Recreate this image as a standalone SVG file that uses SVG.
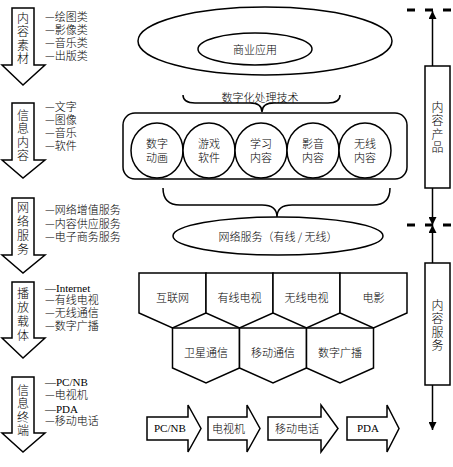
<svg xmlns="http://www.w3.org/2000/svg" width="453" height="467" viewBox="0 0 453 467">
<defs>
<style>
.s{fill:#fff;stroke:#000;stroke-width:1.5}
.n{fill:none;stroke:#000;stroke-width:1.5}
.t{font-family:"Noto Sans CJK SC","Liberation Serif",sans-serif;font-size:11px;font-weight:300;fill:#000;dominant-baseline:central}
.m{font-family:"Noto Sans CJK SC","Liberation Serif",sans-serif;font-size:11px;font-weight:300;fill:#000}
.l{font-family:"Liberation Serif","Noto Sans CJK SC",serif;font-size:11px;font-weight:400;fill:#000;dominant-baseline:central}
.lt{font-family:"Liberation Serif","Noto Sans CJK SC",serif;font-weight:400}
.c{text-anchor:middle}
.v{font-family:"Noto Sans CJK SC","Liberation Serif",sans-serif;font-size:12px;font-weight:300;fill:#000;writing-mode:vertical-rl;letter-spacing:1.5px}
.d{fill:none;stroke:#000;stroke-width:3;stroke-dasharray:8 10}
</style>
<marker id="ah" viewBox="0 0 10 10" refX="10" refY="5" markerWidth="8" markerHeight="8" markerUnits="userSpaceOnUse" orient="auto"><path d="M0,0L10,5L0,10z" fill="#000"/></marker>
</defs>
<rect width="453" height="467" fill="#fff"/>

<g id="arrow-content-material">
<polygon class="s" points="12,8 34,8 34,65 45,65 23,85 2,65 12,65"/>
<text class="v" x="23" y="12">内容素材</text>
<text class="m"><tspan x="45" y="21">—绘图类</tspan><tspan x="45" y="34">—影像类</tspan><tspan x="45" y="47">—音乐类</tspan><tspan x="45" y="60">—出版类</tspan></text>
</g>
<g id="arrow-info-content">
<polygon class="s" points="12,103 34,103 34,160 45,160 23,178 2,160 12,160"/>
<text class="v" x="23" y="109">信息内容</text>
<text class="m"><tspan x="45" y="111">—文字</tspan><tspan x="45" y="124">—图像</tspan><tspan x="45" y="137">—音乐</tspan><tspan x="45" y="150">—软件</tspan></text>
</g>
<g id="arrow-network-service">
<polygon class="s" points="12,198 34,198 34,255 45,255 23,273 2,255 12,255"/>
<text class="v" x="23" y="201" style="letter-spacing:2px">网络服务</text>
<text class="m"><tspan x="45" y="214">—网络增值服务</tspan><tspan x="45" y="228">—内容供应服务</tspan><tspan x="45" y="241">—电子商务服务</tspan></text>
</g>
<g id="arrow-carrier">
<polygon class="s" points="12,282 34,282 34,338 45,338 23,358 2,338 12,338"/>
<text class="v" x="23" y="287" style="letter-spacing:2px">播放载体</text>
<text class="m"><tspan x="45" y="292" class="lt">—Internet</tspan><tspan x="45" y="304">—有线电视</tspan><tspan x="45" y="317">—无线通信</tspan><tspan x="45" y="330">—数字广播</tspan></text>
</g>
<g id="arrow-terminal">
<polygon class="s" points="12,377 34,377 34,433 45,433 23,452 2,433 12,433"/>
<text class="v" x="23" y="384">信息终端</text>
<text class="m"><tspan x="45" y="386" class="lt">—PC/NB</tspan><tspan x="45" y="399">—电视机</tspan><tspan x="45" y="413" class="lt">—PDA</tspan><tspan x="45" y="425">—移动电话</tspan></text>
</g>

<g id="business-app">
<ellipse class="s" cx="265" cy="41" rx="127" ry="34"/>
<ellipse class="s" cx="255" cy="49" rx="57" ry="16"/>
<text class="t c" x="255" y="49">商业应用</text>
</g>

<g id="digital-tech">
<text class="t c" x="260" y="97">数字化处理技术</text>
</g>

<g id="content-products">
<rect class="s" x="123" y="113" width="284" height="66" rx="12"/>
<ellipse class="s" cx="157" cy="150.5" rx="26" ry="27.5"/>
<ellipse class="s" cx="209" cy="150.5" rx="26" ry="27.5"/>
<ellipse class="s" cx="261" cy="150.5" rx="26" ry="27.5"/>
<ellipse class="s" cx="313" cy="150.5" rx="26" ry="27.5"/>
<ellipse class="s" cx="365" cy="150.5" rx="26" ry="27.5"/>
<text class="m c"><tspan x="157" y="148">数字</tspan><tspan x="157" y="162">动画</tspan></text>
<text class="m c"><tspan x="209" y="148">游戏</tspan><tspan x="209" y="162">软件</tspan></text>
<text class="m c"><tspan x="261" y="148">学习</tspan><tspan x="261" y="162">内容</tspan></text>
<text class="m c"><tspan x="313" y="148">影音</tspan><tspan x="313" y="162">内容</tspan></text>
<text class="m c"><tspan x="365" y="148">无线</tspan><tspan x="365" y="162">内容</tspan></text>
</g>

<g id="network-service">
<ellipse class="s" cx="278" cy="236" rx="105" ry="19"/>
<text class="t c" x="278" y="236">网络服务（有线 / 无线）</text>
</g>

<g id="carriers">
<polygon class="s" points="139,273 206,273 206,313 172.5,328 139,313"/>
<polygon class="s" points="206,273 273,273 273,313 239.5,328 206,313"/>
<polygon class="s" points="273,273 340,273 340,313 306.5,328 273,313"/>
<polygon class="s" points="340,273 407,273 407,313 373.5,328 340,313"/>
<polygon class="s" points="172.5,328 239.5,328 239.5,368 206,383 172.5,368"/>
<polygon class="s" points="239.5,328 306.5,328 306.5,368 273,383 239.5,368"/>
<polygon class="s" points="306.5,328 373.5,328 373.5,368 340,383 306.5,368"/>
<text class="t c" x="172.5" y="297">互联网</text>
<text class="t c" x="239.5" y="297">有线电视</text>
<text class="t c" x="306.5" y="297">无线电视</text>
<text class="t c" x="373.5" y="297">电影</text>
<text class="t c" x="206" y="352">卫星通信</text>
<text class="t c" x="273" y="352">移动通信</text>
<text class="t c" x="340" y="352">数字广播</text>
</g>

<g id="terminals">
<polygon class="s" points="147,417 188,417 188,405 201,428.5 188,452 188,440 147,440"/>
<polygon class="s" points="208,417 247,417 247,405 260,428.5 247,452 247,440 208,440"/>
<polygon class="s" points="268,417 321,417 321,405 338,428.5 321,452 321,440 268,440"/>
<polygon class="s" points="347,417 387,417 387,405 399,428.5 387,452 387,440 347,440"/>
<text class="l" x="154" y="428">PC/NB</text>
<text class="t" x="212" y="428">电视机</text>
<text class="t" x="275" y="428">移动电话</text>
<text class="l" x="357" y="428">PDA</text>
</g>

<g id="content-product-box">
<rect class="s" x="425" y="66" width="25" height="122"/>
<text class="v" x="437.5" y="101">内容产品</text>
</g>
<g id="content-service-box">
<rect class="s" x="425" y="263" width="25" height="122"/>
<text class="v" x="437.5" y="299">内容服务</text>
</g>

<g id="connectors">
<path class="n" d="M183,95 Q183,103 195,103 L250,103 Q262,103 262,112 Q262,103 274,103 L328,103 Q340,103 340,95"/>
<path class="n" d="M163,188 Q163,205 180,205 L262,205 Q277,205 277,217 Q277,205 292,205 L373,205 Q390,205 390,188"/>
<line class="d" x1="407" y1="10" x2="453" y2="10"/>
<line class="d" x1="407" y1="225" x2="453" y2="225"/>
<line class="n" x1="432.5" y1="66" x2="432.5" y2="11" marker-end="url(#ah)"/>
<line class="n" x1="432.5" y1="188" x2="432.5" y2="225" marker-end="url(#ah)"/>
<line class="n" x1="432.5" y1="263" x2="432.5" y2="225" marker-end="url(#ah)"/>
<line class="n" x1="432.5" y1="385" x2="432.5" y2="430" marker-end="url(#ah)"/>
</g>
</svg>
